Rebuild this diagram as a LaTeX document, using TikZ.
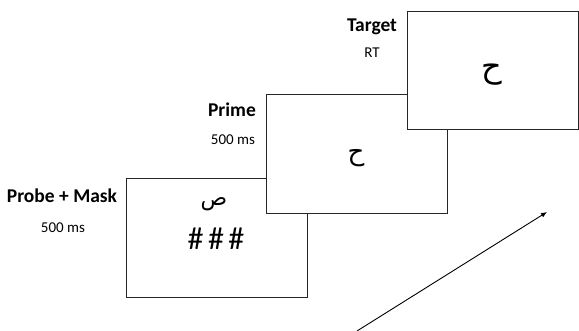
\documentclass[tikz,border=0pt]{standalone}
\usetikzlibrary{arrows.meta}
\usepackage{fontspec}
\setmainfont{Carlito}
\newfontfamily\arabicfont[Script=Arabic]{DejaVu Sans}
\TeXXeTstate=1
\begin{document}
\begin{tikzpicture}[x=1pt,y=-1pt,
  screen/.style={draw=black!85, line width=1.3pt, fill=white, anchor=north west, inner sep=0pt},
  title/.style={font=\fontsize{19.5}{21}\selectfont\bfseries, anchor=base, inner sep=0pt},
  sub/.style={font=\fontsize{15}{16}\selectfont, anchor=base, inner sep=0pt},
  glyph/.style={inner sep=0pt}]
\useasboundingbox (0,0) rectangle (579,331);
\node[screen, minimum width=181pt, minimum height=119pt] (probe) at (126,178) {};
\node[screen, minimum width=181pt, minimum height=119pt] (prime) at (266,94) {};
\node[screen, minimum width=171pt, minimum height=118pt] (target) at (407,11) {};
\node[title] (tprobe) at (62,203) {Probe + Mask};
\node[sub] (sprobe) at (63,233) {500 ms};
\node[title] (tprime) at (232,117) {Prime};
\node[sub] (sprime) at (233,145) {500 ms};
\node[title] (ttarget) at (372,32) {Target};
\node[sub] (starget) at (372,58) {RT};
\node[glyph, font=\arabicfont\fontsize{22}{24}\selectfont] (sad) at (214,204) {\beginR ص\endR};
\node[glyph, font=\fontsize{32}{34}\selectfont] (hash) at (216,239) {\#\kern4.5pt\#\kern4.5pt\#};
\node[glyph, font=\arabicfont\fontsize{26}{28}\selectfont] (hah1) at (356,158) {\beginR ح\endR};
\node[glyph, font=\arabicfont\fontsize{32}{34}\selectfont] (hah2) at (492,75) {\beginR ح\endR};
\coordinate (a0) at (357,331);
\coordinate (a1) at (547,212);
\draw[line width=0.9pt, -{Latex[length=6pt,width=5pt]}] (a0) -- (a1);
\end{tikzpicture}
\end{document}
